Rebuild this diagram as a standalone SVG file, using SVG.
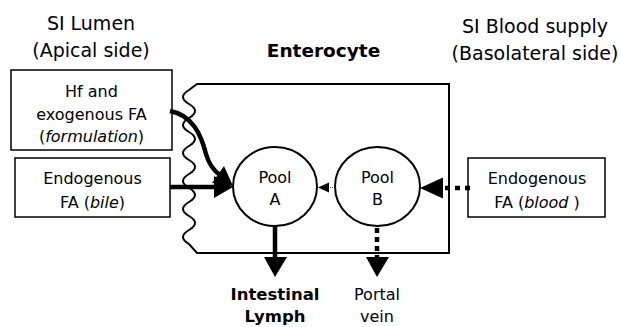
<svg xmlns="http://www.w3.org/2000/svg" width="621" height="327" viewBox="0 0 621 327">
<style>
text{font-family:"DejaVu Sans","Liberation Sans",sans-serif;fill:#000;text-anchor:middle}
.h{font-size:19px}
.t{font-size:16px}
.b{font-weight:bold}
.box{fill:#fff;stroke:#000;stroke-width:1.5}
.pool{fill:#fff;stroke:#000;stroke-width:2}
.cell{fill:none;stroke:#000;stroke-width:2}
.thick{fill:none;stroke:#000;stroke-width:4.5}
.dot{fill:none;stroke:#000;stroke-width:4.5;stroke-dasharray:5 5}
</style>
<rect width="621" height="327" fill="#fff"/>
<g id="labels">
<text class="h" x="91" y="30">SI Lumen</text>
<text class="h" x="91" y="57">(Apical side)</text>
<text class="h" x="535" y="33">SI Blood supply</text>
<text class="h" x="535" y="60">(Basolateral side)</text>
<text class="b" style="font-size:18.5px" x="323.5" y="57">Enterocyte</text>
</g>
<g id="enterocyte">
<path class="cell" d="M449,84 V253 H197 L189,244 Q177,237 189,230 T189,216 T189,202 T189,188 T189,174 T189,160 T189,146 T189,132 T189,118 T189,104 T189,90 L197,84 Z"/>
</g>
<g id="hf-box">
<rect class="box" x="11" y="70" width="161" height="80"/>
<text class="t" x="91.5" y="97">Hf and</text>
<text class="t" x="91.5" y="120">exogenous FA</text>
<text class="t" x="91.5" y="142">(<tspan font-style="italic">formulation</tspan>)</text>
</g>
<g id="bile-box">
<rect class="box" x="15" y="158" width="155" height="59"/>
<text class="t" x="92.5" y="184">Endogenous</text>
<text class="t" x="92.5" y="208">FA (<tspan font-style="italic">bile</tspan>)</text>
</g>
<g id="blood-box">
<rect class="box" x="468" y="158" width="137" height="59"/>
<text class="t" x="537" y="184">Endogenous</text>
<text class="t" x="537" y="208">FA (<tspan font-style="italic">blood</tspan> )</text>
</g>
<g id="pool-a">
<ellipse class="pool" cx="275" cy="186.5" rx="42" ry="39.5"/>
<text class="t" x="275" y="183">Pool</text>
<text class="t" x="275" y="205">A</text>
</g>
<g id="pool-b">
<ellipse class="pool" cx="377.5" cy="186.5" rx="42.5" ry="39.5"/>
<text class="t" x="377.5" y="183">Pool</text>
<text class="t" x="377.5" y="205">B</text>
</g>
<g id="connectors">
<path class="thick" d="M170,111 C192,115 201,134 206,154 Q210,168 220,175"/>
<polygon points="233,186 212,183 224,166"/>
<line class="thick" x1="170" y1="187" x2="217" y2="187"/>
<polygon points="233,187 214,176 214,198"/>
<line x1="328" y1="187.5" x2="335" y2="187.5" stroke="#555" stroke-width="1" stroke-dasharray="1 1"/>
<polygon points="318,187.5 329,182.5 329,192.5"/>
<line class="dot" x1="470" y1="188" x2="442" y2="188"/>
<polygon points="420,188 443,177.5 443,198.5"/>
<line class="thick" x1="275" y1="226" x2="275" y2="260"/>
<polygon points="275,277 264,257 287,257"/>
<line class="dot" x1="377" y1="228" x2="377" y2="259" style="stroke-dasharray:5 4"/>
<polygon points="377,277 366,257 389,257"/>
</g>
<g id="outputs">
<text class="t b" style="font-size:16.5px" x="275" y="300">Intestinal</text>
<text class="t b" style="font-size:16.5px" x="275" y="322">Lymph</text>
<text class="t" x="377" y="300">Portal</text>
<text class="t" x="377" y="322">vein</text>
</g>
</svg>
